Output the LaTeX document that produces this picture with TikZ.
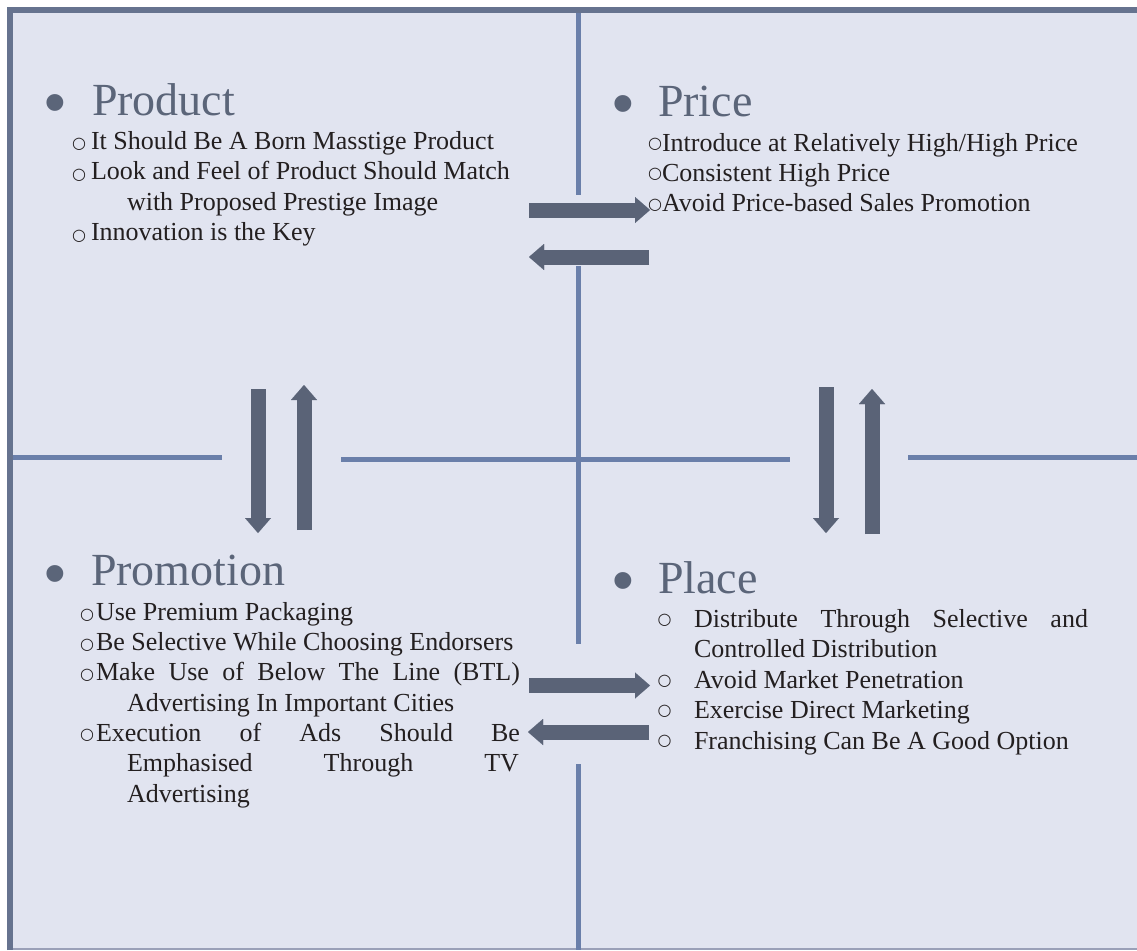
\documentclass[tikz,border=0pt]{standalone}
\usepackage{fontspec}
\setmainfont{Liberation Serif}
\newfontfamily\symfnt{DejaVu Sans}
\newfontfamily\bulfnt{Liberation Sans}
\usetikzlibrary{arrows.meta}
\definecolor{bgc}{HTML}{E1E4F0}
\definecolor{framec}{HTML}{66738F}
\definecolor{gridc}{HTML}{6A7FAA}
\definecolor{arrc}{HTML}{5A6377}
\definecolor{ttlc}{HTML}{5B6579}
\definecolor{txtc}{HTML}{231F20}
\definecolor{botc}{HTML}{9AA0B8}
\begin{document}
\begin{tikzpicture}[x=1pt,y=-1pt,
  txt/.style={anchor=base west, inner sep=0pt, outer sep=0pt, text=txtc, font=\fontsize{26}{30.5}\selectfont},
  obul/.style={anchor=center, inner sep=0pt, outer sep=0pt, text=txtc, font=\symfnt\fontsize{16}{18}\selectfont},
  ttl/.style={anchor=base west, inner sep=0pt, outer sep=0pt, text=ttlc, font=\fontsize{46}{50}\selectfont},
  bdot/.style={anchor=base west, inner sep=0pt, outer sep=0pt, text=ttlc, font=\bulfnt\fontsize{62}{64}\selectfont},
  gridline/.style={draw=gridc, line width=5pt},
  blockarrow/.style={draw=arrc, line width=15pt, -{Triangle[width=26pt,length=15pt,line width=0.01pt]}}
]
\useasboundingbox (0,0) rectangle (1137,950);
\fill[white] (0,0) rectangle (1137,950);
\fill[bgc] (7,7) rectangle (1137,950);
\draw[botc, line width=1.5pt] (13,949) -- (1137,949);
\draw[framec, line width=6pt] (10,950) -- (10,10) -- (1137,10);

% grid lines
\draw[gridline] (578.5,13) -- (578.5,195);
\draw[gridline] (578.5,266) -- (578.5,644);
\draw[gridline] (578.5,764) -- (578.5,950);
\draw[gridline] (13,457) -- (222,457);
\draw[gridline] (341,459) -- (790,459);
\draw[gridline] (908,457) -- (1137,457);

% arrows
\coordinate (a1s) at (529,210); \coordinate (a1e) at (650,210);
\coordinate (a2s) at (649,257); \coordinate (a2e) at (529,257);
\coordinate (a3s) at (258,389); \coordinate (a3e) at (258,533);
\coordinate (a4s) at (304,530); \coordinate (a4e) at (304,385);
\coordinate (a5s) at (826,387); \coordinate (a5e) at (826,533);
\coordinate (a6s) at (872,534); \coordinate (a6e) at (872,389);
\coordinate (a7s) at (529,685.5); \coordinate (a7e) at (650,685.5);
\coordinate (a8s) at (649,732); \coordinate (a8e) at (528,732);
\foreach \i in {1,...,8} { \draw[blockarrow] (a\i s) -- (a\i e); }

% Product
\node[bdot] (pd) at (44.5,123) {•};
\node[ttl] (pt) at (92,115) {Product};
\node[obul] (p1o) at (79,144.5) {○};
\node[txt] (p1) at (91,149.5) {It Should Be A Born Masstige Product};
\node[obul] (p2o) at (79,175) {○};
\node[txt] (p2) at (91,179.5) {Look and Feel of Product Should Match};
\node[txt] (p2b) at (127,210) {with Proposed Prestige Image};
\node[obul] (p3o) at (79,236) {○};
\node[txt] (p3) at (91,240.5) {Innovation is the Key};

% Price
\node[bdot] (rd) at (612.5,124) {•};
\node[ttl] (rt) at (658,116) {Price};
\node[obul] (r1o) at (655,144) {○};
\node[txt] (r1) at (662,151) {Introduce at Relatively High/High Price};
\node[obul] (r2o) at (655,174.5) {○};
\node[txt] (r2) at (662,181) {Consistent High Price};
\node[obul] (r3o) at (655,205) {○};
\node[txt] (r3) at (662,211.5) {Avoid Price-based Sales Promotion};

% Promotion
\node[bdot] (md) at (44.5,594) {•};
\node[ttl] (mt) at (91,585) {Promotion};
\node[obul] (m1o) at (87,615.3) {○};
\node[txt] (m1) at (96,620.5) {Use Premium Packaging};
\node[obul] (m2o) at (87,645.3) {○};
\node[txt] (m2) at (96,650.5) {Be Selective While Choosing Endorsers};
\node[obul] (m3o) at (87,675.5) {○};
\node[txt] (m3) at (96,680.5) {\makebox[424pt][s]{Make Use of Below The Line (BTL)}};
\node[txt] (m3b) at (127,711) {Advertising In Important Cities};
\node[obul] (m4o) at (87,735.5) {○};
\node[txt] (m4) at (96,741) {\makebox[424pt][s]{Execution of Ads Should Be}};
\node[txt] (m4b) at (127,771.5) {\makebox[392pt][s]{Emphasised Through TV}};
\node[txt] (m4c) at (127,802) {Advertising};

% Place
\node[bdot] (ld) at (612.5,601) {•};
\node[ttl] (lt) at (658,593) {Place};
\node[obul] (l1o) at (664.5,620) {○};
\node[txt] (l1) at (694,627) {\makebox[394pt][s]{Distribute Through Selective and}};
\node[txt] (l1b) at (694,657.5) {Controlled Distribution};
\node[obul] (l2o) at (664.5,681) {○};
\node[txt] (l2) at (694,688) {Avoid Market Penetration};
\node[obul] (l3o) at (664.5,711) {○};
\node[txt] (l3) at (694,718.5) {Exercise Direct Marketing};
\node[obul] (l4o) at (664.5,741) {○};
\node[txt] (l4) at (694,749) {Franchising Can Be A Good Option};
\end{tikzpicture}
\end{document}
